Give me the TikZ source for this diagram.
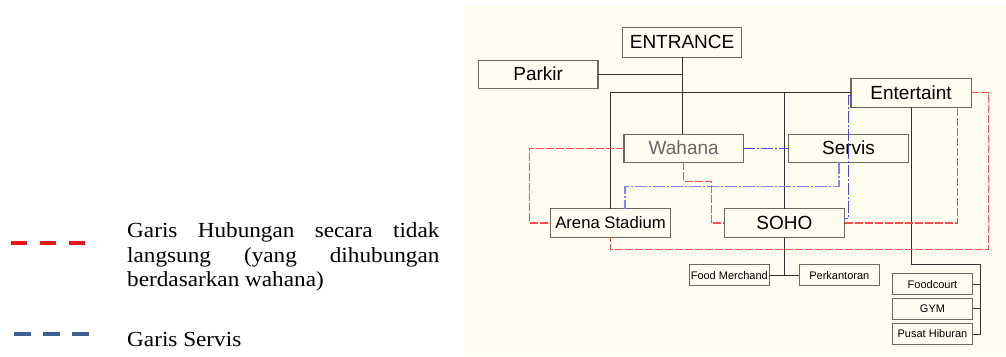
\documentclass[tikz,border=0pt]{standalone}
\usepackage{fontspec}
\newfontfamily\arialf{Liberation Sans}
\newfontfamily\legendfont[FakeStretch=1.08]{Liberation Serif}
\definecolor{cream}{RGB}{255,252,240}
\definecolor{boxline}{RGB}{105,105,100}
\definecolor{conn}{RGB}{50,50,50}
\definecolor{redd}{RGB}{255,75,75}
\definecolor{bluee}{RGB}{70,70,255}
\definecolor{bluel}{RGB}{130,130,255}
\definecolor{legred}{RGB}{235,20,20}
\definecolor{legblue}{RGB}{60,95,150}
\tikzset{
  box/.style={draw=boxline, line width=1.1pt, fill=cream, inner sep=0pt, outer sep=0pt, text=black},
  bigbox/.style={box, minimum width=119.5pt, minimum height=28.6pt, font=\arialf\fontsize{19}{21}\selectfont},
  smallbox/.style={box, minimum width=80pt, minimum height=21.2pt, font=\arialf\fontsize{11}{13}\selectfont},
  link/.style={draw=conn, line width=0.9pt},
  redlink/.style={draw=redd, line width=1.1pt, dash pattern=on 8pt off 2pt},
  bluelink/.style={draw=bluee, line width=0.9pt, dash pattern=on 12pt off 2pt on 2pt off 2pt},
  bluewide/.style={draw=bluel, line width=1.6pt, dash pattern=on 12pt off 2pt on 2pt off 2pt},
  legtext/.style={anchor=base west, inner sep=0pt, align=left, font=\legendfont\fontsize{21.5}{24.5}\selectfont}
}
\begin{document}
\begin{tikzpicture}[x=1pt,y=-1pt]
\useasboundingbox (0,0) rectangle (1006,356);
\fill[white] (0,0) rectangle (1006,356);
\fill[cream] (464,6) rectangle (1006,356);

% boxes
\node[bigbox, minimum width=118.8pt, minimum height=29.7pt] (entrance) at (682.1,42.2) {ENTRANCE};
\node[bigbox, minimum height=28.3pt] (parkir) at (538.2,74.2) {Parkir};
\node[bigbox, minimum width=120.2pt, minimum height=29.3pt] (entert) at (911.1,92.7) {Entertaint};
\node[bigbox, minimum height=28.3pt, text=black!60] (wahana) at (683.7,148.2) {Wahana};
\node[bigbox, minimum height=28.3pt] (servis) at (848.5,148.2) {Servis};
\node[bigbox, font=\arialf\fontsize{16.7}{19}\selectfont] (arena) at (610.5,223) {Arena Stadium};
\node[bigbox, minimum width=120.2pt] (soho) at (784.4,223) {SOHO};
\node[smallbox, minimum width=79.5pt] (foodm) at (729.3,275.3) {Food Merchand};
\node[smallbox, minimum width=79.9pt] (perk) at (839.3,275.3) {Perkantoran};
\node[smallbox, minimum width=80.3pt, minimum height=21pt] (foodc) at (932.5,284.2) {Foodcourt};
\node[smallbox, minimum width=80.3pt, minimum height=21pt] (gym) at (932.5,308.8) {GYM};
\node[smallbox, minimum width=80.3pt, minimum height=21.4pt] (pusat) at (932.5,334) {Pusat Hiburan};

% coordinates for bends
\coordinate (br) at (980.1,264.3);
\coordinate (r1) at (529.2,223);
\coordinate (r2) at (711.2,181.3);
\coordinate (r4) at (988.7,249.3);
\coordinate (b1) at (624.7,186.5);
\coordinate (b2) at (848.2,218.3);

% black connectors
\draw[link] (entrance.south) -- (entrance.south |- wahana.north);
\draw[link] (parkir.east) -- (parkir.east -| entrance.south);
\draw[link] (entert.west) -| (arena.north);
\draw[link] (soho.north) -- (soho.north |- entert.west);
\draw[link] (soho.south) -- (soho.south |- foodm.east);
\draw[link] (foodm.east) -- (perk.west);
\draw[link] (entert.south) |- (br) |- (pusat.east);
\draw[link] (foodc.east) -- (foodc.east -| br);
\draw[link] (gym.east) -- (gym.east -| br);

% red dashed connectors
\draw[redlink] (wahana.west) -| (r1) -- (arena.west);
\draw[redlink] (wahana.south) |- (r2) |- (soho.west);
\draw[redlink] (soho.east) -| ([xshift=-13.8pt]entert.south east);
\draw[redlink] (entert.east) -| (r4) -| (arena.south);

% blue service connectors
\draw[bluelink] (wahana.east) -- (servis.west);
\draw[bluewide] ([xshift=-9.6pt]servis.south) |- (b1) -- (b1 |- arena.north);
\draw[bluelink] ([yshift=-3pt]entert.west) -| (b2) -- (b2 -| soho.east);

% legend
\coordinate (lr1) at (11,242.7);
\coordinate (lr2) at (86,242.7);
\coordinate (lb1) at (14,334);
\coordinate (lb2) at (89,334);
\draw[legred, line width=4pt, dash pattern=on 16pt off 13pt] (lr1) -- (lr2);
\draw[legblue, line width=3.5pt, dash pattern=on 17pt off 12pt] (lb1) -- (lb2);
\node[legtext] (leg1) at (127,286.7) {\makebox[312.3pt][s]{Garis Hubungan secara tidak}\\\makebox[312.3pt][s]{langsung (yang dihubungan}\\berdasarkan wahana)};
\node[legtext] (leg2) at (127,346.7) {Garis Servis};
\end{tikzpicture}
\end{document}
